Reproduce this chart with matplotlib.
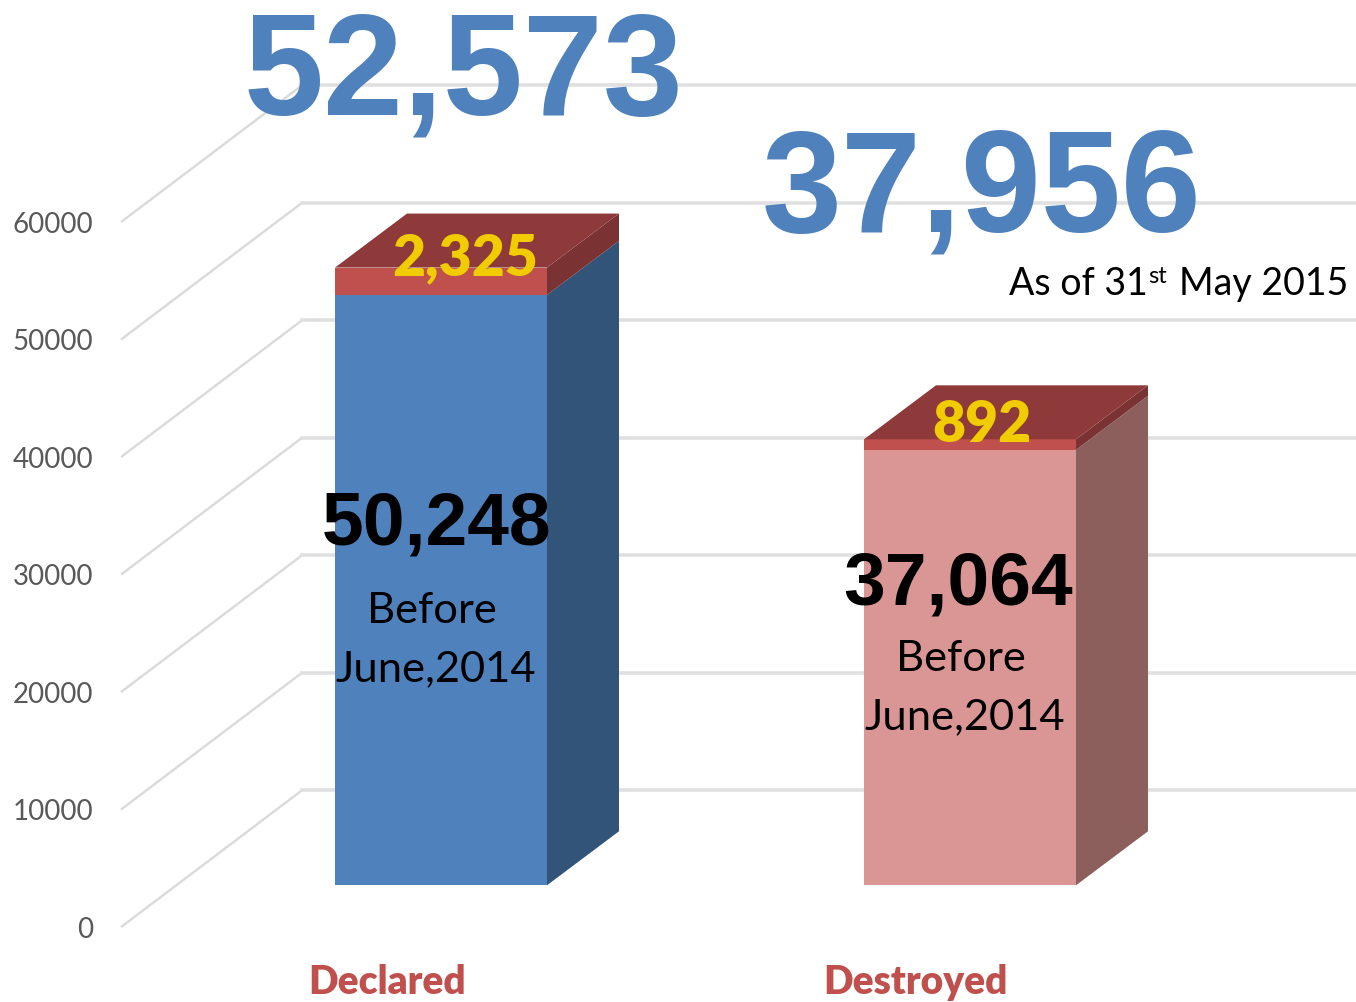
import matplotlib
matplotlib.use('Agg')
import matplotlib.pyplot as plt
from matplotlib.patches import Polygon

categories = ['Declared', 'Destroyed']
before_june = [50248, 37064]
after_june = [2325, 892]
totals = ['52,573', '37,956']
before_labels = ['50,248', '37,064']
after_labels = ['2,325', '892']
y_ticks = [0, 10000, 20000, 30000, 40000, 50000, 60000]

W, H = 1356, 1003
PX_PER_VALUE = 0.01175
PX_PER_CAT = 529.0
BASE_PX = 886.3
BAR_W = 212 / PX_PER_CAT
DEPTH_X = 72 / PX_PER_CAT
DEPTH_Y = 54 / PX_PER_VALUE

GREY = '#595959'
BLUE = '#4F81BD'
RED = '#C0504D'
YELLOW = '#F0CC00'


def px(x, y):
    # figure pixels (top left origin) to axes fraction, for text
    return x / W, 1 - y / H


def box(ax, x, v0, v1, front, side, top):
    l, r = x - BAR_W / 2, x + BAR_W / 2
    ax.add_patch(Polygon([(l, v0), (r, v0), (r, v1), (l, v1)], fc=front, ec='none', zorder=3))
    ax.add_patch(Polygon([(r, v0), (r + DEPTH_X, v0 + DEPTH_Y), (r + DEPTH_X, v1 + DEPTH_Y), (r, v1)],
                         fc=side, ec='none', zorder=3))
    if top:
        ax.add_patch(Polygon([(l, v1), (r, v1), (r + DEPTH_X, v1 + DEPTH_Y), (l + DEPTH_X, v1 + DEPTH_Y)],
                             fc=top, ec='none', zorder=3))


def label(ax, x, y, s, **kw):
    fx, fy = px(x, y)
    kw.setdefault('va', 'baseline')
    kw.setdefault('ha', 'center')
    kw.setdefault('zorder', 5)
    ax.text(fx, fy, s, transform=ax.transAxes, **kw)


def main():
    fig = plt.figure(figsize=(W / 100, H / 100), dpi=100)
    ax = fig.add_axes([0, 0, 1, 1])
    ax.set_xlim(-441 / PX_PER_CAT, (W - 441) / PX_PER_CAT)
    ax.set_ylim(-(H - BASE_PX) / PX_PER_VALUE, BASE_PX / PX_PER_VALUE)
    ax.axis('off')

    # wall and gridlines
    wall_x0 = (122 - 441) / PX_PER_CAT
    wall_x1 = (302 - 441) / PX_PER_CAT
    front_off = -41 / PX_PER_VALUE
    back_off = 95 / PX_PER_VALUE
    for v in y_ticks:
        ax.plot([wall_x0, wall_x1], [v + front_off, v + back_off], color='#DADADA', lw=1.7, zorder=1)
        ax.plot([wall_x1, ax.get_xlim()[1]], [v + back_off, v + back_off], color='#E0E0E0', lw=2.6, zorder=1)
        fx, fy = px(93, 0)
        ax.text(fx, v + front_off - 2.5 / PX_PER_VALUE, str(v), transform=ax.get_yaxis_transform(),
                ha='right', va='center', fontsize=20, color=GREY, family='Lato')

    # bars
    fronts = [BLUE, '#D99694']
    sides = ['#335479', '#8C5E5C']
    for i in range(len(categories)):
        box(ax, i, 0, before_june[i], fronts[i], sides[i], None)
        box(ax, i, before_june[i], before_june[i] + after_june[i], RED, '#7A3232', '#8E3A3A')

    # category labels
    for cx, name in zip([387, 915], categories):
        label(ax, cx, 994, name, fontsize=28, fontweight='heavy', color=RED, family='Lato')

    # big totals
    label(ax, 464, 115, totals[0], fontsize=103.5, fontweight='bold', color=BLUE, family='Liberation Sans')
    label(ax, 982, 232, totals[1], fontsize=103.5, fontweight='bold', color=BLUE, family='Liberation Sans')

    # values inside the bars
    label(ax, 437, 544, before_labels[0], fontsize=54, fontweight='bold', color='black', family='Liberation Sans')
    label(ax, 958, 604, before_labels[1], fontsize=54, fontweight='bold', color='black', family='Liberation Sans')
    label(ax, 465, 275, after_labels[0], fontsize=41, fontweight='heavy', color=YELLOW, family='Lato')
    label(ax, 982, 442, after_labels[1], fontsize=41, fontweight='heavy', color=YELLOW, family='Lato')

    for x0, y0 in [(432, 623), (961, 671)]:
        label(ax, x0, y0, 'Before', fontsize=31.3, color='black', family='Lato')
        label(ax, x0 + 4, y0 + 58, 'June,2014', fontsize=31.3, color='black', family='Lato')

    # date note
    label(ax, 1009, 295, 'As of 31', fontsize=27, color='black', family='Lato', ha='left')
    label(ax, 1148, 283, 'st', fontsize=17, color='black', family='Lato', ha='left')
    label(ax, 1348, 295, 'May 2015', fontsize=27, color='black', family='Lato', ha='right')

    fig.savefig('out.png', dpi=100, facecolor='white')
    plt.close(fig)


if __name__ == '__main__':
    main()
